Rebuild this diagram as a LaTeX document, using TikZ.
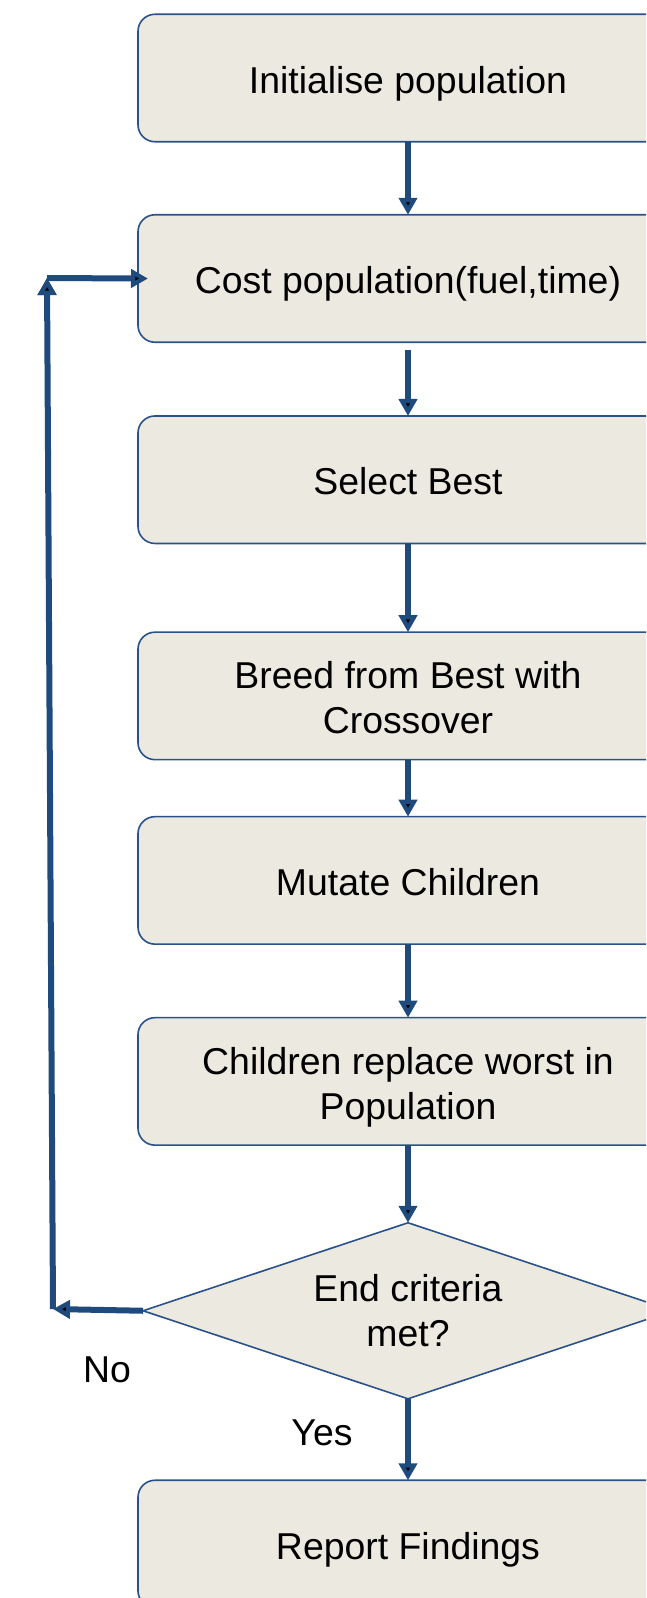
\documentclass[tikz,border=0pt]{standalone}
\usepackage{fontspec}
\setmainfont{Liberation Sans}
\usetikzlibrary{positioning}
\usetikzlibrary{shapes.geometric}
\usetikzlibrary{arrows.meta}

\definecolor{boxfill}{HTML}{ECEAE0}
\definecolor{boxline}{HTML}{2A5289}
\definecolor{flowblue}{HTML}{1F4A7E}

\newcommand{\boxstrut}{\rule{0pt}{39pt}}

\begin{document}
\begin{tikzpicture}[x=1pt, y=1pt, >={Triangle[width=18pt,length=17pt]}, font=\fontsize{37.4}{45}\selectfont]
		 \tikzstyle{stage} = [draw=boxline, line width=1.6pt, fill=boxfill, rounded corners=17pt, minimum width=540pt, minimum height=127.5pt, align=center, inner sep=0pt, outer sep=0pt,
		                      execute at begin node={\rule[-8pt]{0pt}{46pt}}];
		 \tikzstyle{decision} = [diamond, aspect=3, draw=boxline, line width=1.6pt, fill=boxfill, minimum width=530pt, minimum height=176pt, align=center, inner sep=0pt, outer sep=0pt];
		 \tikzstyle{flow} = [->, draw=flowblue, line width=6pt];

		 \useasboundingbox (0,0) rectangle (646,-1598);
		 \clip (0,0) rectangle (646,-1598);

		 \node [stage]    (init)                               at (408,-78) {Initialise population};
		 \node [stage]    (cost)    [below=73pt of init]       {Cost population(fuel,time)};
		 \node [stage]    (select)  [below=73.7pt of cost]     {Select Best};
		 \node [stage]    (breed)   [below=88.7pt of select]   {\boxstrut Breed from Best with\\Crossover};
		 \node [stage]    (mutate)  [below=57pt of breed]      {Mutate Children};
		 \node [stage]    (replace) [below=73.5pt of mutate]   {\boxstrut Children replace worst in\\Population};
		 \node [decision] (endq)    [below=77.6pt of replace]  {End criteria\\met?};
		 \node [stage]    (report)  [below=81.5pt of endq]     {Report Findings};

		 \coordinate (noturn)  at (53,-1309);
		 \coordinate (looptop) at (47,-278);

		 \node (nolabel)  at (107,-1370) {No};
		 \node (yeslabel) at (322,-1433) {Yes};

 		\path [flow] (init)    edge                      (cost)
         		     (cost)    edge [shorten <=8pt]      (select)
         		     (select)  edge                      (breed)
         		     (breed)   edge                      (mutate)
         		     (mutate)  edge                      (replace)
         		     (replace) edge                      (endq)
         		     (endq)    edge                      (report)
         		     (endq.west) edge                    (noturn)
         		     (noturn)  edge                      (looptop)
         		     (looptop) edge [shorten >=-10pt]    (cost.west);
\end{tikzpicture}
\end{document}
